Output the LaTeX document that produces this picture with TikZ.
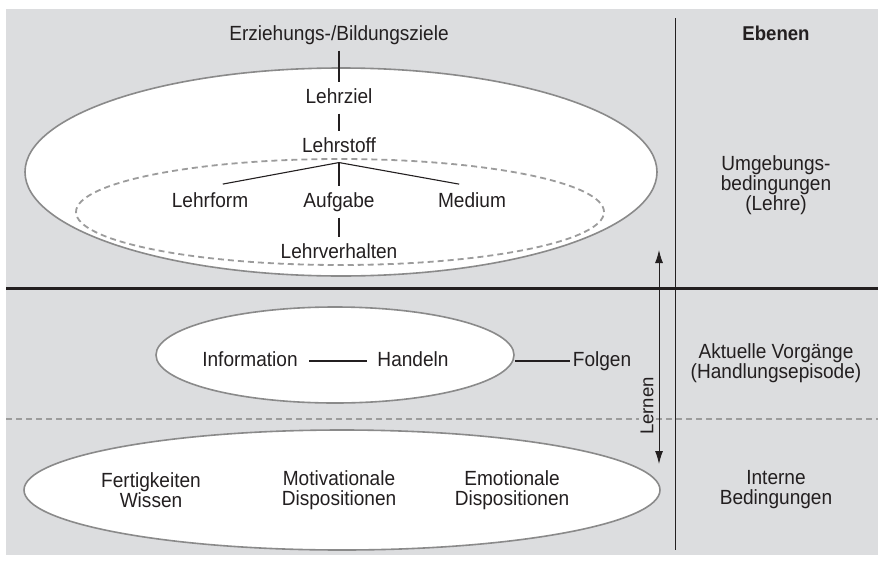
\documentclass[tikz,border=0pt]{standalone}
\usepackage{fontspec}
\setmainfont{Liberation Sans}[FakeStretch=0.93]
\newfontfamily\lernfont{Liberation Sans}
\usetikzlibrary{shapes.geometric,arrows.meta}
\definecolor{bg}{HTML}{DCDDDF}
\definecolor{rim}{HTML}{8A8A8A}
\definecolor{ink}{HTML}{231F20}

\begin{document}
\begin{tikzpicture}[x=1pt, y=-1pt, line width=1.1pt, draw=ink,
  >={Latex[length=13pt,width=8pt]},
  txt/.style={text=ink, inner sep=6pt, text height=14pt, text depth=4pt},
  multi/.style={text=ink, align=center, inner sep=0pt},
  rimmed/.style={ellipse, draw=rim, line width=1.6pt, fill=white, inner sep=0pt},
  dashline/.style={draw=rim!85, line width=1.8pt, dash pattern=on 6pt off 4pt}]
\fontsize{20.5}{20}\selectfont
\useasboundingbox (0,0) rectangle (878,560);
\fill[bg] (6,9) rectangle (878,555);

% Ebenen: Lehre, Handlungsepisode, interne Bedingungen
\node[rimmed, minimum width=632pt, minimum height=208pt] (lehre) at (341,172) {};
\draw[dashline] (340,212) ellipse [x radius=264pt, y radius=53pt];
\node[rimmed, minimum width=358pt, minimum height=96pt] (episode) at (335,355) {};
\node[rimmed, minimum width=636pt, minimum height=120pt] (intern) at (342,490) {};

\draw[line width=3pt] (6,288) -- (878,288);
\draw[dashline] (6,419) -- (878,419);
\draw[line width=1pt] (675,18) -- (675,550);

% Lehre
\node[txt] (ziele) at (339,35) {Erziehungs-/Bildungsziele};
\node[txt] (ziel) at (339,98) {Lehrziel};
\node[txt] (stoff) at (339,147) {Lehrstoff};
\node[txt] (form) at (210,202) {Lehrform};
\node[txt] (aufgabe) at (339,202) {Aufgabe};
\node[txt] (medium) at (472,202) {Medium};
\node[txt] (verhalten) at (339,253) {Lehrverhalten};

\draw (ziele) -- (ziel);
\draw (ziel) -- (stoff);
\draw[shorten >=13pt] (stoff.south) -- (form.north);
\draw (stoff.south) -- (aufgabe.north);
\draw[shorten >=13pt] (stoff.south) -- (medium.north);
\draw (aufgabe) -- (verhalten);

% Handlungsepisode
\node[txt, inner xsep=11pt] (info) at (250,361) {Information};
\node[txt, inner xsep=10pt] (handeln) at (413,361) {Handeln};
\node[txt, inner xsep=2pt] (folgen) at (602,361) {Folgen};
\draw (info) -- (handeln);
\draw (folgen.west -| episode.east) -- (folgen.west);

% interne Bedingungen
\node[multi] (wissen) at (151,490) {Fertigkeiten\\Wissen};
\node[multi] (motiv) at (339,490) {Motivationale\\Dispositionen};
\node[multi] (emo) at (512,490) {Emotionale\\Dispositionen};

% Lernen
\node[rotate=90, font=\lernfont\fontsize{18.6}{18.6}\selectfont, text=ink,
  fill=bg, inner sep=2pt] (lernen) at (647,406) {Lernen};
\coordinate (oben) at (659,250);
\coordinate (unten) at (659,464);
\draw[<->, line width=1pt] (oben) -- (unten);

% rechte Spalte
\node[txt, font=\bfseries\fontsize{20}{20}\selectfont] (ebenen) at (776,35) {Ebenen};
\node[multi] (umg) at (776,185) {Umgebungs-\\bedingungen\\(Lehre)};
\node[multi] (akt) at (776,363) {Aktuelle Vorgänge\\(Handlungsepisode)};
\node[multi] (int) at (776,490) {Interne\\Bedingungen};
\end{tikzpicture}
\end{document}
